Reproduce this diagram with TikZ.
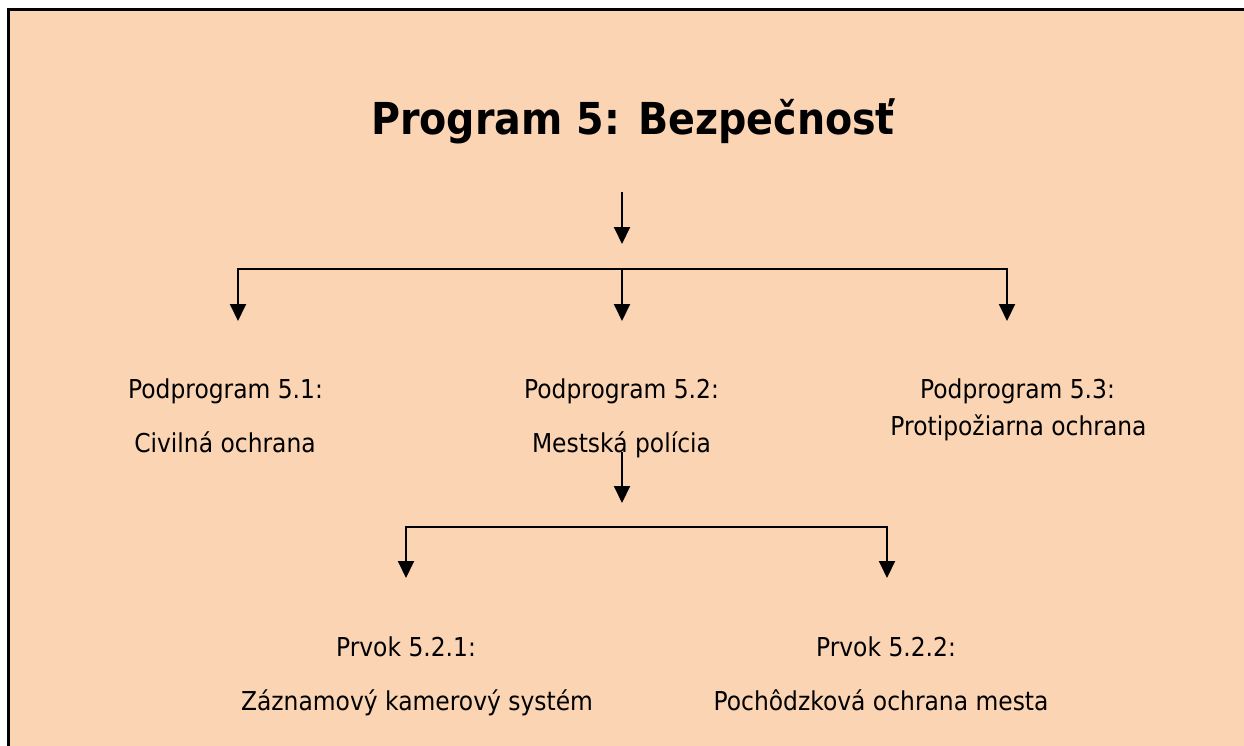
\documentclass[tikz,border=0pt]{standalone}
\usepackage{fontspec}
\setmainfont[FakeStretch=0.9]{DejaVu Sans}
\usetikzlibrary{arrows.meta}
\definecolor{peach}{HTML}{FBD4B4}
\begin{document}
\begin{tikzpicture}[x=1pt,y=-1pt,
  conn/.style={line width=2pt, -{Triangle[width=16pt,length=17pt]}},
  lbl/.style={font=\fontsize{26}{31}\selectfont, anchor=base, inner sep=0pt},
  ttl/.style={font=\fontsize{44}{52}\selectfont\bfseries, anchor=base, inner sep=0pt}]
\useasboundingbox (0,0) rectangle (1244,746);
% page background and frame
\fill[peach] (8.3,9.5) rectangle (1244,746);
\draw[line width=3.3pt] (8.3,746) -- (8.3,9.5) -- (1244,9.5);

% title
\node[ttl] (title) at (633,135) {Program 5: Bezpečnosť};

% first level
\coordinate (t0) at (622,192);
\coordinate (t1) at (622,244);
\coordinate (hub) at (622,269);
\coordinate (al) at (238,321);
\coordinate (am) at (622,321);
\coordinate (ar) at (1007,321);
\draw[conn] (t0) -- (t1);
\draw[conn] (hub) -| (al);
\draw[conn] (hub) -- (am);
\draw[conn] (hub) -| (ar);

\node[lbl] (p51) at (225.5,398) {Podprogram 5.1:};
\node[lbl] (p51n) at (225,452) {Civilná ochrana};
\node[lbl] (p52) at (621.5,398) {Podprogram 5.2:};
\node[lbl] (p52n) at (621.5,452) {Mestská polícia};
\node[lbl] (p53) at (1017.5,398) {Podprogram 5.3:};
\node[lbl] (p53n) at (1018.5,435) {Protipožiarna ochrana};

% second level under 5.2
\coordinate (s0) at (622,452);
\coordinate (s1) at (622,503);
\coordinate (hub2) at (622,527);
\coordinate (ql) at (406,578);
\coordinate (qr) at (887,578);
\draw[conn] (s0) -- (s1);
\draw[conn] (hub2) -| (ql);
\draw[conn] (hub2) -| (qr);

\node[lbl] (e1) at (406,656) {Prvok 5.2.1:};
\node[lbl] (e1n) at (417,710) {Záznamový kamerový systém};
\node[lbl] (e2) at (886,656) {Prvok 5.2.2:};
\node[lbl] (e2n) at (881,710) {Pochôdzková ochrana mesta};
\end{tikzpicture}
\end{document}
